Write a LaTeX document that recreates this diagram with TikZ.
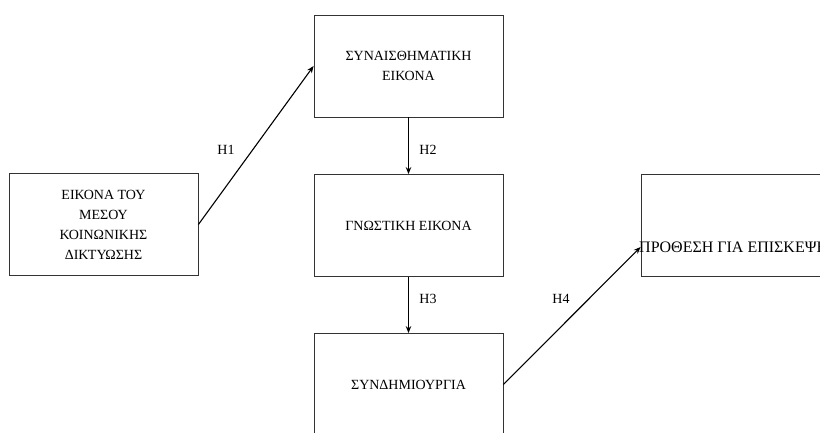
\documentclass[tikz,border=0pt]{standalone}
\usepackage{fontspec}
\setmainfont{Liberation Serif}
\usetikzlibrary{arrows.meta}
\begin{document}
\begin{tikzpicture}[x=1pt,y=-1pt,
  box/.style={draw=black!80, line width=0.8pt, minimum width=189pt, minimum height=102pt, inner sep=0pt, align=center,
    font=\fontsize{14}{20}\selectfont},
  txt/.style={font=\fontsize{16}{20}\selectfont, inner sep=0pt},
  lbl/.style={font=\fontsize{14}{17}\selectfont, inner sep=0pt},
  arr/.style={line width=1.1pt, -{Stealth[length=7pt,width=5.5pt]}}]
\clip (0,0) rectangle (820,432);
\fill[white] (0,0) rectangle (820,432);
\node[box] (b1) at (103.5,224.5) {ΕΙΚΟΝΑ ΤΟΥ\\ΜΕΣΟΥ\\ΚΟΙΝΩΝΙΚΗΣ\\ΔΙΚΤΥΩΣΗΣ};
\node[box] (b2) at (408.5,66) {ΣΥΝΑΙΣΘΗΜΑΤΙΚΗ\\ΕΙΚΟΝΑ};
\node[box] (b3) at (408.5,225.5) {ΓΝΩΣΤΙΚΗ ΕΙΚΟΝΑ};
\node[box] (b4) at (408.5,384.5) {ΣΥΝΔΗΜΙΟΥΡΓΙΑ};
\node[box] (b5) at (735.5,225) {};
\node[txt, anchor=west] (t5) at (639,247) {ΠΡΟΘΕΣΗ ΓΙΑ ΕΠΙΣΚΕΨΗ};
\draw[arr] (b1.east) -- (b2.west);
\draw[arr] (b2.south) -- (b3.north);
\draw[arr] (b3.south) -- (b4.north);
\draw[arr] (b4.east) -- (b5.west |- t5);
\node[lbl] (h1) at (226,150) {H1};
\node[lbl] (h2) at (428,150) {H2};
\node[lbl] (h3) at (428,299) {H3};
\node[lbl] (h4) at (561,299) {H4};
\end{tikzpicture}
\end{document}
